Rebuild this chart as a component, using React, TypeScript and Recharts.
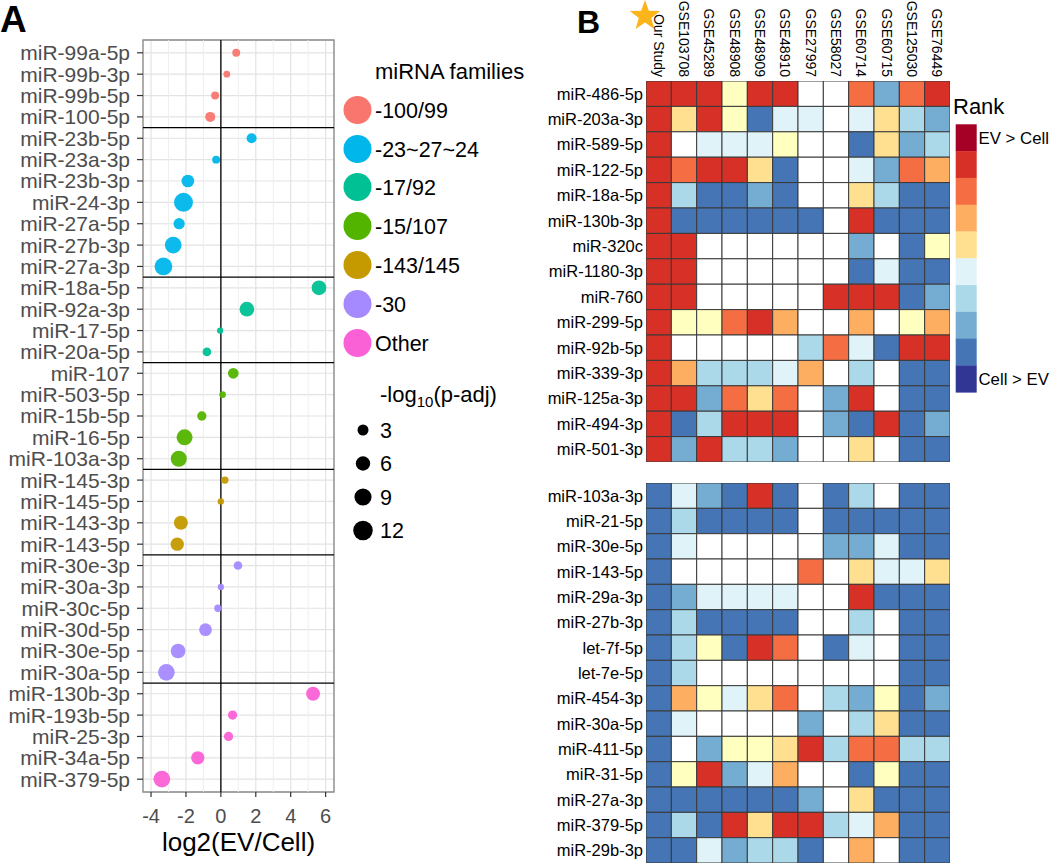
import React from 'react';
import {
  ScatterChart,
  Scatter,
  XAxis,
  YAxis,
  ZAxis,
  CartesianGrid,
  ReferenceLine,
  ReferenceArea,
} from 'recharts';

const FONT = '"Liberation Sans", Arial, Helvetica, sans-serif';

// ---------------- Panel A data ----------------
const mirNamesA = [
  'miR-99a-5p', 'miR-99b-3p', 'miR-99b-5p', 'miR-100-5p',
  'miR-23b-5p', 'miR-23a-3p', 'miR-23b-3p', 'miR-24-3p', 'miR-27a-5p', 'miR-27b-3p', 'miR-27a-3p',
  'miR-18a-5p', 'miR-92a-3p', 'miR-17-5p', 'miR-20a-5p',
  'miR-107', 'miR-503-5p', 'miR-15b-5p', 'miR-16-5p', 'miR-103a-3p',
  'miR-145-3p', 'miR-145-5p', 'miR-143-3p', 'miR-143-5p',
  'miR-30e-3p', 'miR-30a-3p', 'miR-30c-5p', 'miR-30d-5p', 'miR-30e-5p', 'miR-30a-5p',
  'miR-130b-3p', 'miR-193b-5p', 'miR-25-3p', 'miR-34a-5p', 'miR-379-5p',
];
const log2EvCell = [
  0.88, 0.34, -0.33, -0.61,
  1.76, -0.27, -1.89, -2.14, -2.39, -2.73, -3.29,
  5.62, 1.49, -0.04, -0.8,
  0.71, 0.1, -1.09, -2.08, -2.41,
  0.23, 0.0, -2.29, -2.5,
  0.98, 0.0, -0.17, -0.88, -2.45, -3.12,
  5.28, 0.67, 0.44, -1.32, -3.38,
];
const negLog10Padj = [
  1.0, 0.4, 1.0, 2.3,
  2.3, 1.0, 4.4, 11.3, 3.2, 8.5, 9.7,
  6.3, 6.3, 0.2, 1.4,
  2.8, 0.3, 1.8, 7.7, 7.7,
  0.7, 0.2, 5.6, 5.0,
  1.4, 0.2, 0.7, 4.4, 6.3, 8.5,
  5.6, 1.8, 1.8, 5.0, 8.5,
];
const familyNames = ['-100/99', '-23~27~24', '-17/92', '-15/107', '-143/145', '-30', 'Other'];
const familyColors = ['#F8766D', '#00B6EB', '#00C094', '#53B400', '#C49A00', '#A58AFF', '#FB61D7'];
const familySizes = [4, 7, 4, 5, 4, 6, 5];
const separatorsA = [4.5, 11.5, 15.5, 20.5, 24.5, 30.5];
const xTicksA = [-4, -2, 0, 2, 4, 6];
const xMinorA = [-3, -1, 1, 3, 5];
const sizeLegendValues = [3, 6, 9, 12];

const Z_DOMAIN: [number, number] = [0, 14];
const Z_RANGE: [number, number] = [27, 344];
const areaOf = (v: number) => Z_RANGE[0] + ((Z_RANGE[1] - Z_RANGE[0]) * (v - Z_DOMAIN[0])) / (Z_DOMAIN[1] - Z_DOMAIN[0]);
const radiusOf = (v: number) => Math.sqrt(areaOf(v) / Math.PI);

const familySeries = (() => {
  const out: { x: number; row: number; p: number }[][] = [];
  let k = 0;
  familySizes.forEach((n) => {
    const arr: { x: number; row: number; p: number }[] = [];
    for (let i = 0; i < n; i++) {
      arr.push({ x: log2EvCell[k], row: k + 1, p: negLog10Padj[k] });
      k++;
    }
    out.push(arr);
  });
  return out;
})();
const rowTicksA = mirNamesA.map((_, i) => i + 1);

// ---------------- Panel B data ----------------
const studies = [
  'Our Study', 'GSE103708', 'GSE45289', 'GSE48908', 'GSE48909', 'GSE48910',
  'GSE27997', 'GSE58027', 'GSE60714', 'GSE60715', 'GSE125030', 'GSE76449',
];
const mirNamesTop = [
  'miR-486-5p', 'miR-203a-3p', 'miR-589-5p', 'miR-122-5p', 'miR-18a-5p', 'miR-130b-3p', 'miR-320c',
  'miR-1180-3p', 'miR-760', 'miR-299-5p', 'miR-92b-5p', 'miR-339-3p', 'miR-125a-3p', 'miR-494-3p', 'miR-501-3p',
];
const mirNamesBottom = [
  'miR-103a-3p', 'miR-21-5p', 'miR-30e-5p', 'miR-143-5p', 'miR-29a-3p', 'miR-27b-3p', 'let-7f-5p',
  'let-7e-5p', 'miR-454-3p', 'miR-30a-5p', 'miR-411-5p', 'miR-31-5p', 'miR-27a-3p', 'miR-379-5p', 'miR-29b-3p',
];
// rank level per cell: 11 strongest EV > Cell ... 1 strongest Cell > EV, 0 = not detected
const ranksTop = [
  [10, 10, 10, 6, 10, 10, 0, 0, 9, 3, 9, 10],
  [10, 7, 10, 6, 2, 5, 5, 0, 5, 7, 4, 3],
  [10, 0, 5, 5, 5, 6, 0, 0, 2, 7, 3, 4],
  [10, 9, 10, 10, 7, 2, 0, 0, 5, 3, 9, 8],
  [10, 4, 2, 2, 3, 2, 0, 0, 7, 4, 2, 2],
  [10, 2, 2, 2, 2, 2, 2, 0, 10, 2, 2, 2],
  [10, 10, 0, 0, 0, 0, 0, 0, 3, 0, 2, 6],
  [10, 10, 0, 0, 0, 0, 0, 0, 2, 5, 2, 2],
  [10, 10, 0, 0, 0, 0, 0, 10, 10, 10, 2, 3],
  [10, 6, 6, 9, 10, 8, 0, 0, 8, 0, 6, 8],
  [10, 0, 0, 0, 0, 0, 4, 9, 5, 2, 10, 10],
  [10, 8, 4, 4, 4, 5, 8, 0, 4, 0, 2, 2],
  [10, 10, 3, 9, 7, 9, 0, 3, 10, 0, 2, 2],
  [10, 2, 4, 10, 10, 10, 0, 3, 2, 10, 2, 3],
  [10, 3, 10, 4, 4, 3, 0, 0, 7, 0, 2, 2],
];
const ranksBottom = [
  [2, 5, 3, 2, 10, 2, 0, 2, 4, 0, 2, 2],
  [2, 4, 2, 2, 2, 2, 0, 2, 2, 2, 2, 2],
  [2, 5, 0, 0, 0, 0, 0, 3, 3, 5, 2, 2],
  [2, 0, 0, 0, 0, 0, 9, 0, 7, 5, 5, 7],
  [2, 3, 5, 5, 5, 5, 0, 0, 10, 2, 2, 2],
  [2, 4, 2, 2, 2, 2, 0, 0, 4, 0, 2, 2],
  [2, 4, 6, 2, 10, 9, 0, 2, 5, 0, 2, 2],
  [2, 4, 0, 0, 0, 0, 0, 0, 0, 0, 2, 2],
  [2, 8, 6, 5, 7, 9, 0, 4, 3, 6, 2, 3],
  [2, 5, 0, 0, 0, 0, 3, 0, 4, 7, 2, 2],
  [2, 0, 3, 6, 6, 7, 10, 4, 9, 9, 4, 4],
  [2, 6, 10, 3, 5, 8, 0, 0, 2, 6, 2, 2],
  [2, 2, 2, 2, 2, 2, 3, 0, 7, 2, 2, 2],
  [2, 4, 2, 10, 7, 10, 10, 4, 5, 8, 2, 2],
  [2, 2, 5, 3, 4, 4, 2, 0, 8, 0, 2, 2],
];
const rankColors = [
  '#FFFFFF', '#313695', '#4575B4', '#74ADD1', '#ABD9E9', '#E0F3F8',
  '#FFFFBF', '#FEE090', '#FDAE61', '#F46D43', '#D73027', '#A50026',
];
const rankLegendLevels = [11, 10, 9, 8, 7, 5, 4, 3, 2, 1];

// ---------------- layout ----------------
const A_PLOT_LEFT = 143;
const A_PLOT_TOP = 40;
const A_PLOT_BOTTOM = 792;
const A_WIDTH = 350;
const A_HEIGHT = 868;

const B_BOX_LEFT = 500;
const B_YAXIS_W = 146;
const B_BOX_W = 455;
const B_RIGHT_MARGIN = 5;
const B_PLOT_W = B_BOX_W - B_YAXIS_W - B_RIGHT_MARGIN;
const B_HEADER_H = 81;

const toGrid = (ranks: number[][]) => {
  const out: { c: number; r: number; rank: number }[] = [];
  ranks.forEach((row, r) => row.forEach((rank, c) => out.push({ c, r, rank })));
  return out;
};

const HeaderTick = (props: any) => {
  const { x, y, payload } = props;
  return (
    <text
      x={x}
      y={y}
      transform={`rotate(90, ${x}, ${y})`}
      textAnchor="end"
      dy="0.36em"
      fontSize={14}
      fontFamily={FONT}
      fill="#000"
    >
      {studies[payload.value]}
    </text>
  );
};

function HeatBlock({
  ranks,
  names,
  top,
  height,
  header,
}: {
  ranks: number[][];
  names: string[];
  top: number;
  height: number;
  header: boolean;
}) {
  const headerH = header ? B_HEADER_H : 0;
  const plotH = height - headerH;
  const cw = B_PLOT_W / studies.length;
  const ch = plotH / names.length;
  const CellShape = (p: any) => (
    <rect
      x={p.cx - cw / 2}
      y={p.cy - ch / 2}
      width={cw}
      height={ch}
      fill={rankColors[p.payload.rank]}
      stroke="#3a3a3a"
      strokeWidth={1}
    />
  );
  return (
    <div style={{ position: 'absolute', left: B_BOX_LEFT, top }}>
      <ScatterChart
        width={B_BOX_W}
        height={height}
        margin={{ top: 0, right: B_RIGHT_MARGIN, bottom: 0, left: 0 }}
      >
        <XAxis
          type="number"
          dataKey="c"
          domain={[-0.5, studies.length - 0.5]}
          allowDataOverflow
          ticks={studies.map((_, i) => i)}
          interval={0}
          orientation="top"
          hide={!header}
          height={headerH}
          axisLine={false}
          tickLine={false}
          tickSize={0}
          tickMargin={4}
          tick={<HeaderTick />}
        />
        <YAxis
          type="number"
          dataKey="r"
          domain={[-0.5, names.length - 0.5]}
          allowDataOverflow
          reversed
          ticks={names.map((_, i) => i)}
          interval={0}
          width={B_YAXIS_W}
          axisLine={false}
          tickLine={false}
          tickSize={0}
          tickMargin={3}
          tickFormatter={(v: number) => names[v]}
          tick={{ fill: '#000', fontSize: 16.5, fontFamily: FONT }}
        />
        <Scatter data={toGrid(ranks)} shape={CellShape} isAnimationActive={false} />
      </ScatterChart>
    </div>
  );
}

const starPoints = (cx: number, cy: number, ro: number, ri: number) => {
  const pts: string[] = [];
  for (let i = 0; i < 10; i++) {
    const r = i % 2 === 0 ? ro : ri;
    const a = -Math.PI / 2 + (i * Math.PI) / 5;
    pts.push(`${cx + r * Math.cos(a)},${cy + r * Math.sin(a)}`);
  }
  return pts.join(' ');
};

export default function App() {
  const famLegendY = [110, 149, 187, 226, 265, 304, 343];
  const sizeLegendY = [430, 463.5, 497, 530.5];
  const barTop = 124.3;
  const barH = 26.8;
  return (
    <div
      style={{
        position: 'absolute',
        left: 0,
        top: 0,
        width: 1050,
        height: 868,
        background: '#fff',
        fontFamily: FONT,
        overflow: 'hidden',
      }}
    >
      <svg width={1050} height={868} style={{ position: 'absolute', left: 0, top: 0 }}>
        <text x={0} y={32} fontSize={37} fontWeight="bold" fontFamily={FONT} fill="#000">A</text>
        <text x={577} y={33} fontSize={32} fontWeight="bold" fontFamily={FONT} fill="#000">B</text>
        <polygon points={starPoints(645, 16, 16, 6.5)} fill="#FBB41A" />

        {/* x title panel A */}
        <text x={238.5} y={851} fontSize={26} textAnchor="middle" fontFamily={FONT} fill="#000">
          log2(EV/Cell)
        </text>

        {/* family legend */}
        <text x={375} y={79} fontSize={22} fontFamily={FONT} fill="#000">miRNA families</text>
        {familyNames.map((n, i) => (
          <g key={n}>
            <circle cx={357.5} cy={famLegendY[i]} r={14} fill={familyColors[i]} />
            <text x={375} y={famLegendY[i]} dy="0.36em" fontSize={21.5} fontFamily={FONT} fill="#000">
              {n}
            </text>
          </g>
        ))}

        {/* size legend */}
        <text x={380} y={402} fontSize={22} fontFamily={FONT} fill="#000">
          -log
          <tspan fontSize={15} dy={5}>10</tspan>
          <tspan dy={-5}>(p-adj)</tspan>
        </text>
        {sizeLegendValues.map((v, i) => (
          <g key={v}>
            <circle cx={363} cy={sizeLegendY[i]} r={radiusOf(v)} fill="#000" />
            <text x={380} y={sizeLegendY[i]} dy="0.36em" fontSize={21.5} fontFamily={FONT} fill="#000">
              {v}
            </text>
          </g>
        ))}

        {/* rank legend */}
        <text x={953} y={114} fontSize={22} fontFamily={FONT} fill="#000">Rank</text>
        {rankLegendLevels.map((lv, i) => (
          <rect key={lv} x={955.7} y={barTop + i * barH} width={21} height={barH + 0.3} fill={rankColors[lv]} />
        ))}
        <text x={978.5} y={barTop + barH / 2} dy="0.36em" fontSize={16.8} fontFamily={FONT} fill="#000">EV &gt; Cell</text>
        <text x={978.5} y={barTop + 9.5 * barH} dy="0.36em" fontSize={16.8} fontFamily={FONT} fill="#000">Cell &gt; EV</text>
      </svg>

      {/* Panel A */}
      <div style={{ position: 'absolute', left: 0, top: 0 }}>
        <ScatterChart
          width={A_WIDTH}
          height={A_HEIGHT}
          margin={{ top: A_PLOT_TOP, right: 16, bottom: 0, left: 0 }}
        >
          <CartesianGrid stroke="#E3E3E3" strokeWidth={1.2} />
          {xMinorA.map((v) => (
            <ReferenceLine key={`m${v}`} x={v} stroke="#EDEDED" strokeWidth={0.9} />
          ))}
          <XAxis
            type="number"
            dataKey="x"
            domain={[-4.46, 6.48]}
            allowDataOverflow
            ticks={xTicksA}
            interval={0}
            height={A_HEIGHT - A_PLOT_BOTTOM}
            axisLine={false}
            tickSize={5}
            tickMargin={12}
            tickLine={{ stroke: '#333', strokeWidth: 1.2 }}
            tick={{ fill: '#4D4D4D', fontSize: 20, fontFamily: FONT }}
          />
          <YAxis
            type="number"
            dataKey="row"
            domain={[0.4, mirNamesA.length + 0.6]}
            allowDataOverflow
            reversed
            ticks={rowTicksA}
            interval={0}
            width={A_PLOT_LEFT}
            axisLine={false}
            tickSize={6}
            tickMargin={7}
            tickLine={{ stroke: '#333', strokeWidth: 1.2 }}
            tickFormatter={(v: number) => mirNamesA[v - 1]}
            tick={{ fill: '#4D4D4D', fontSize: 21, fontFamily: FONT }}
          />
          <ZAxis type="number" dataKey="p" domain={Z_DOMAIN} range={Z_RANGE} />
          <ReferenceArea
            x1={-4.46}
            x2={6.48}
            y1={0.4}
            y2={mirNamesA.length + 0.6}
            fill="none"
            fillOpacity={0}
            stroke="#8A8A8A"
            strokeWidth={1.3}
          />
          {separatorsA.map((y) => (
            <ReferenceLine key={`s${y}`} y={y} stroke="#000" strokeWidth={1.3} />
          ))}
          <ReferenceLine x={0} stroke="#000" strokeWidth={1.3} />
          {familySeries.map((d, i) => (
            <Scatter
              key={familyNames[i]}
              name={familyNames[i]}
              data={d}
              fill={familyColors[i]}
              fillOpacity={0.95}
              isAnimationActive={false}
            />
          ))}
        </ScatterChart>
      </div>

      {/* Panel B */}
      <HeatBlock ranks={ranksTop} names={mirNamesTop} top={0} height={462} header />
      <HeatBlock ranks={ranksBottom} names={mirNamesBottom} top={483} height={380} header={false} />
    </div>
  );
}
